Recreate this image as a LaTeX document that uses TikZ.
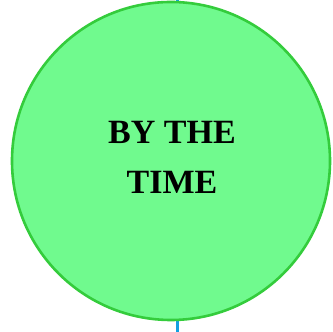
\documentclass[tikz,border=0pt]{standalone}
\usepackage{fontspec}
\setmainfont{Liberation Serif}
\usetikzlibrary{positioning}

\definecolor{discfill}{RGB}{112,250,142}
\definecolor{discline}{RGB}{52,204,60}
\definecolor{wireblue}{RGB}{20,160,225}

\begin{document}
\begin{tikzpicture}[
    x=1pt, y=1pt,
    disc/.style={circle, draw=discline, fill=discfill, line width=2.6pt, minimum size=318pt, inner sep=0pt},
    label/.style={align=center, font=\fontsize{34}{50}\selectfont\bfseries},
    wire/.style={wireblue, line width=3pt}
]
\useasboundingbox (0,0) rectangle (333,332);
\coordinate (wtop) at (177,332);
\coordinate (wbot) at (177,0);
\draw[wire] (wtop) -- (wbot);
\node[disc] (time) at (171,171) {};
\node[label] (txt) at (172,175) {BY THE\\TIME};
\end{tikzpicture}
\end{document}
